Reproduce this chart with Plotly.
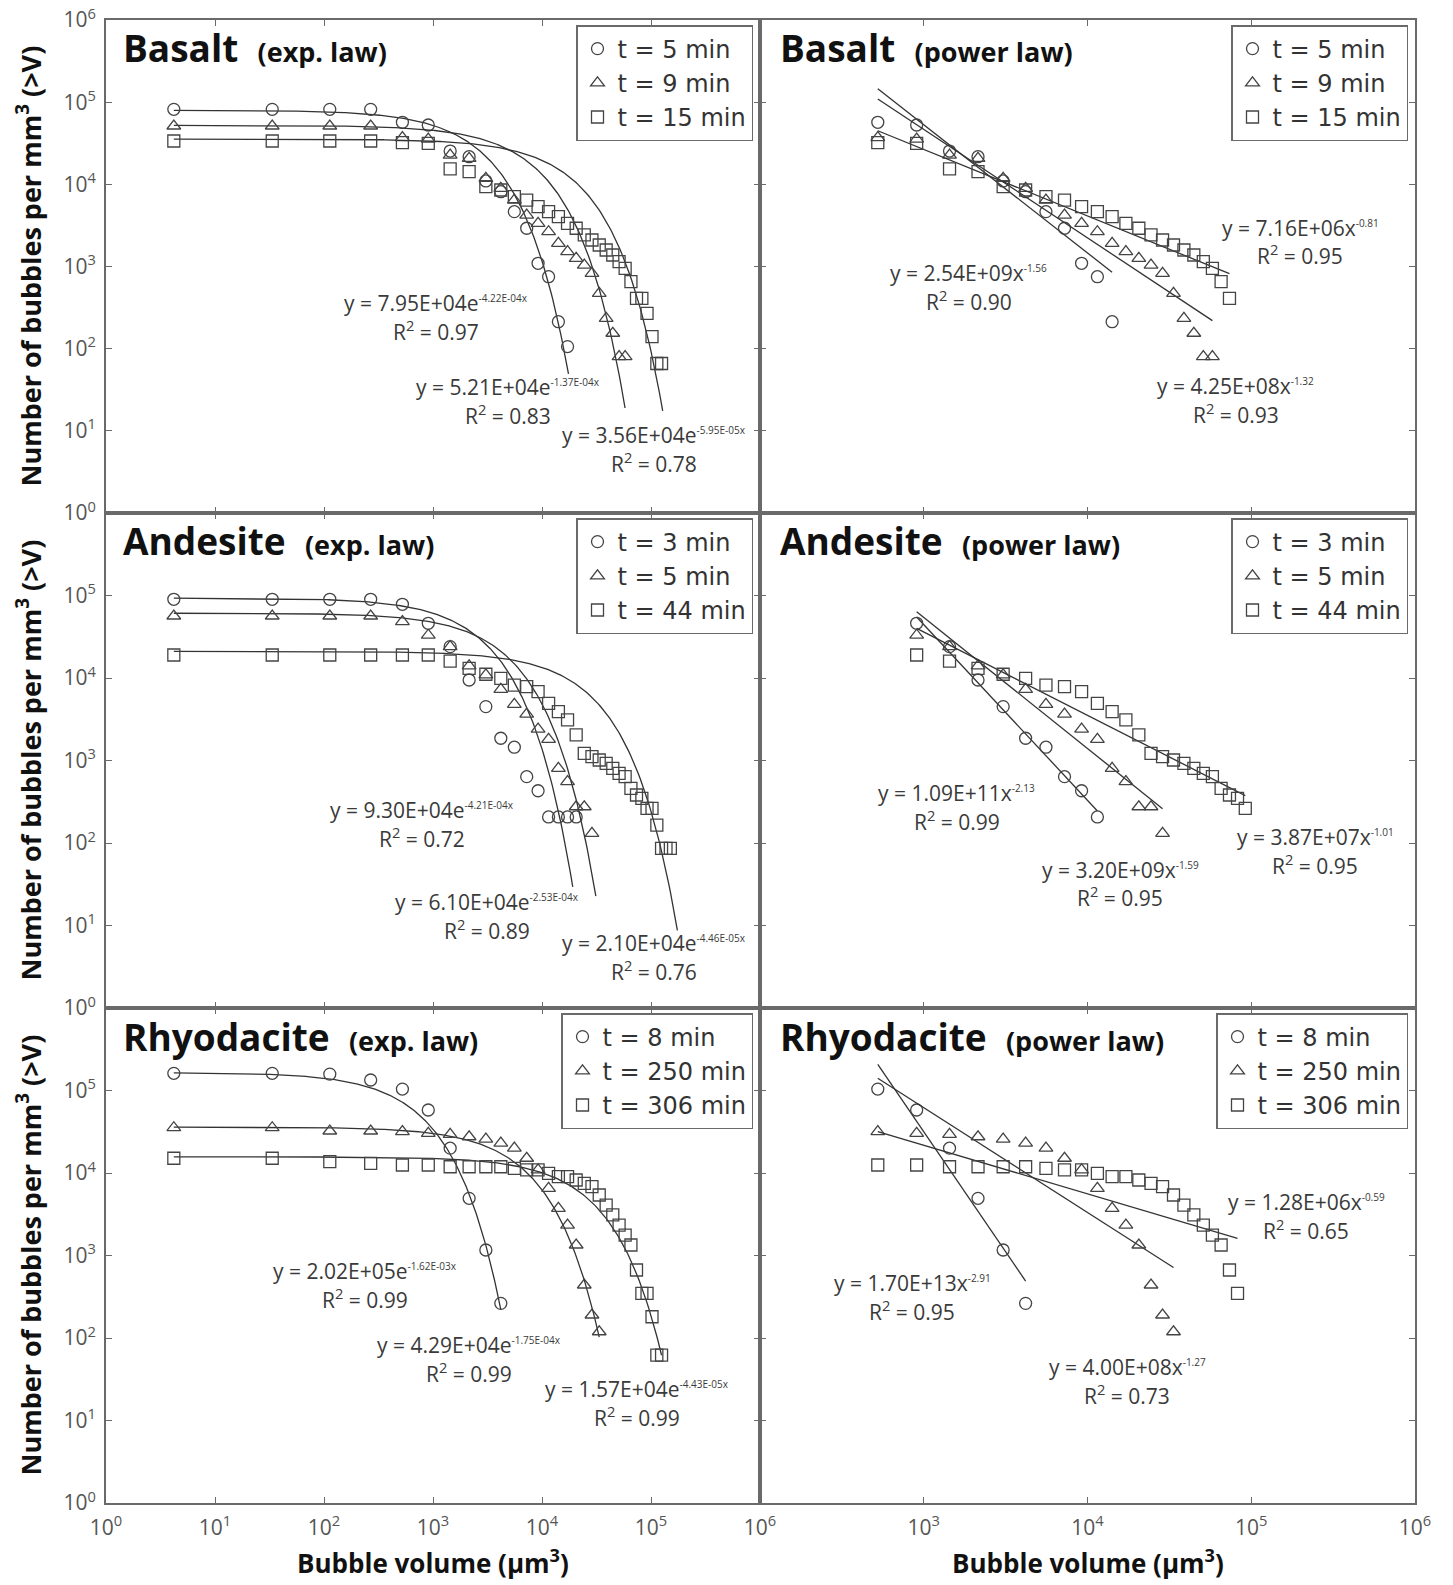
import numpy as np
import plotly.graph_objects as go

W, H = 1453, 1585
S = 1453 / 1437  # reference-shown -> full-size coordinate factor

# ---------------- data ----------------
# bubble-volume classes (µm³) at which cumulative counts are plotted
volume = [4.19, 33.5, 113, 268, 524, 905, 1437, 2145, 3054, 4189, 5575, 7238,
          9203, 11494, 14137, 17157, 20580, 24429, 28731, 33510, 38792, 44602,
          50965, 57906, 65450, 73622, 82448, 91952, 102160, 113097, 125000,
          137258, 150533]

basalt_t5 = [81800, 81800, 81800, 81800, 56900, 52700, 25400, 21700, 11000, 8130,
             4650, 2920, 1094, 751, 213, 106]
basalt_t9 = [51300, 51300, 51300, 51300, 37000, 35500, 22700, 20700, 11800, 8940,
             6440, 4230, 3350, 2650, 1916, 1515, 1257, 1042, 826, 471, 234, 154, 80, 80]
basalt_t15 = [33700, 33700, 33700, 33700, 32100, 31600, 15400, 14300, 9360, 8530,
              7080, 6440, 5350, 4650, 4040, 3350, 2920, 2420, 2100, 1826, 1588, 1380,
              1145, 951, 653, 410, 410, 269, 140, 66, 66]

andesite_t3 = [89900, 89900, 89900, 89900, 78200, 46000, 24000, 9460, 4500, 1860,
               1450, 637, 430, 207, 207, 207, 207]
andesite_t5 = [56400, 56400, 56400, 56400, 48200, 33000, 24000, 14000, 10900, 7300,
               4800, 3650, 2400, 1800, 804, 554, 275, 275, 131]
andesite_t44 = [19000, 19000, 19000, 19000, 19000, 19000, 16000, 13100, 11100, 9910,
                8200, 7850, 6820, 4930, 3910, 3100, 2040, 1222, 1112, 1014, 925, 804,
                699, 637, 460, 382, 348, 263, 263, 165, 86, 86, 86]

rhyo_t8 = [161500, 161500, 158000, 134000, 104000, 58000, 20000, 4930, 1166, 263]
rhyo_t250 = [35400, 35400, 32300, 32300, 31700, 30200, 29400, 27500, 25800, 23000,
             20000, 15100, 10900, 6520, 3730, 2340, 1340, 439, 190, 119]
rhyo_t306 = [15100, 15100, 13700, 13100, 12500, 12500, 11900, 11900, 11900, 11900,
             11400, 10900, 10900, 9910, 9020, 9020, 8230, 7500, 6820, 5410, 4090,
             3100, 2340, 1770, 1340, 667, 348, 348, 181, 62, 62]

rocks = ["Basalt", "Andesite", "Rhyodacite"]
legend_labels = [["t = 5 min", "t = 9 min", "t = 15 min"],
                 ["t = 3 min", "t = 5 min", "t = 44 min"],
                 ["t = 8 min", "t = 250 min", "t = 306 min"]]
series = [[basalt_t5, basalt_t9, basalt_t15],
          [andesite_t3, andesite_t5, andesite_t44],
          [rhyo_t8, rhyo_t250, rhyo_t306]]

# classes shown in the power-law panels (1-based first/last class)
power_first = [[5, 5, 5], [6, 6, 6], [5, 5, 5]]
power_last = [[15, 24, 26], [14, 19, 28], [10, 20, 27]]

# exponential fits  y = a exp(-b V)
exp_a = [[7.95e4, 5.21e4, 3.56e4], [9.30e4, 6.10e4, 2.10e4], [1.65e5, 3.6e4, 1.57e4]]
exp_b = [[4.22e-4, 1.37e-4, 5.95e-5], [4.21e-4, 2.53e-4, 4.46e-5], [1.58e-3, 1.75e-4, 4.43e-5]]
exp_end = [[17500, 57800, 128000], [19150, 31200, 174600], [4189, 33510, 125000]]
exp_text = [["7.95E+04e", "5.21E+04e", "3.56E+04e"],
            ["9.30E+04e", "6.10E+04e", "2.10E+04e"],
            ["2.02E+05e", "4.29E+04e", "1.57E+04e"]]
exp_power_text = [["-4.22E-04x", "-1.37E-04x", "-5.95E-05x"],
                  ["-4.21E-04x", "-2.53E-04x", "-4.46E-05x"],
                  ["-1.62E-03x", "-1.75E-04x", "-4.43E-05x"]]
exp_r2 = [["0.97", "0.83", "0.78"], ["0.72", "0.89", "0.76"], ["0.99", "0.99", "0.99"]]

# power-law fits  y = a V^-k
pow_a = [[2.54e9, 4.25e8, 7.16e6], [1.09e11, 3.20e9, 3.87e7], [1.70e13, 4.00e8, 1.28e6]]
pow_k = [[1.56, 1.32, 0.81], [2.13, 1.59, 1.01], [2.91, 1.27, 0.59]]
pow_text = [["2.54E+09x", "4.25E+08x", "7.16E+06x"],
            ["1.09E+11x", "3.20E+09x", "3.87E+07x"],
            ["1.70E+13x", "4.00E+08x", "1.28E+06x"]]
pow_exp_text = [["-1.56", "-1.32", "-0.81"], ["-2.13", "-1.59", "-1.01"], ["-2.91", "-1.27", "-0.59"]]
pow_r2 = [["0.90", "0.93", "0.95"], ["0.99", "0.95", "0.95"], ["0.95", "0.73", "0.65"]]

# label positions (reference pixel coords, centre of text)
exp_lab_pos = [[(431, 300), (502, 383), (647, 430)],
               [(417, 801), (482, 892), (647, 933)],
               [(361, 1257), (464, 1330), (630, 1374)]]
pow_lab_pos = [[(958, 270), (1222, 382), (1286, 225)],
               [(946, 784), (1108, 860), (1301, 828)],
               [(902, 1269), (1115, 1352), (1292, 1189)]]

# ---------------- layout helpers ----------------
FONT = "'Open Sans', Lato, sans-serif"
LEGFONT = "'DejaVu Sans', 'Open Sans', sans-serif"
INK = "#3a3a3a"
AX = "#6a6a6a"
symbols = ["circle-open", "triangle-up-open", "square-open"]
sizes = [12, 12, 12]

col_x = [(106, 760), (760, 1415)]
row_y = [(20, 513), (513, 1008), (1008, 1503)]
ytick_v = [1, 10, 100, 1e3, 1e4, 1e5, 1e6]
sup = lambda n: f"10<sup>{n}</sup>"


def px(x):
    return x / W


def py(y):
    return 1 - y / H


fig = go.Figure()
layout = {}
annotations = []

for r in range(3):
    for c in range(2):
        k = r * 2 + c + 1
        sfx = "" if k == 1 else str(k)
        xa, ya = "x" + sfx, "y" + sfx
        leg = "legend" + sfx

        x0, x1 = col_x[c]
        y0, y1 = row_y[r]
        bottom = r == 2
        if c == 0:
            xt_v = ytick_v
            xt_t = [sup(i) for i in range(7)]
            xrange = [0, 6]
        else:
            xt_v = [100, 1e3, 1e4, 1e5, 1e6]
            xt_t = ["", sup(3), sup(4), sup(5), sup(6)]
            xrange = [2, 6]
        yt_t = [sup(i) for i in range(7)]
        if r > 0:
            yt_t[-1] = ""
        common = dict(type="log", showline=True, linecolor=AX, linewidth=1.6,
                      mirror="ticks", ticks="inside", ticklen=6, tickwidth=1.2,
                      tickcolor=AX, showgrid=False, zeroline=False, automargin=False,
                      tickfont=dict(size=21, color="#555", family=FONT))
        layout["xaxis" + sfx] = dict(common, domain=[px(x0), px(x1)], range=xrange,
                                     anchor=ya, tickvals=xt_v, ticktext=xt_t,
                                     showticklabels=bottom, ticklabelstandoff=5)
        layout["yaxis" + sfx] = dict(common, domain=[py(y1), py(y0)], range=[0, 6],
                                     anchor=xa, tickvals=ytick_v, ticktext=yt_t,
                                     showticklabels=(c == 0), ticklabelstandoff=4)

        for i in range(3):
            vals = series[r][i]
            if c == 0:
                vx = volume[:len(vals)]
                vy = vals
            else:
                a0, a1 = power_first[r][i] - 1, power_last[r][i]
                vx = volume[a0:a1]
                vy = vals[a0:a1]
            # fit line
            if c == 0:
                fx = np.logspace(np.log10(volume[0]), np.log10(exp_end[r][i]), 300)
                fy = exp_a[r][i] * np.exp(-exp_b[r][i] * fx)
            else:
                fx = np.logspace(np.log10(vx[0]), np.log10(vx[-1]), 50)
                fy = pow_a[r][i] * fx ** (-pow_k[r][i])
            fig.add_trace(go.Scatter(x=fx, y=fy, mode="lines", xaxis=xa, yaxis=ya,
                                     line=dict(color="#333", width=1.3),
                                     showlegend=False, hoverinfo="skip"))
            fig.add_trace(go.Scatter(x=vx, y=vy, mode="markers", xaxis=xa, yaxis=ya,
                                     name=legend_labels[r][i], legend=leg,
                                     marker=dict(symbol=symbols[i], size=sizes[i],
                                                 color="#444", line=dict(width=1.3))))

        layout[leg] = dict(x=px(x1 - 7), y=py(y0 + 5), xanchor="right", yanchor="top",
                           bgcolor="white", bordercolor=AX, borderwidth=1.5,
                           font=dict(size=24, color="#333", family=LEGFONT),
                           itemwidth=30, tracegroupgap=0, traceorder="normal")

        # panel title
        law = "(exp. law)" if c == 0 else "(power law)"
        annotations.append(dict(
            text=f"<b>{rocks[r]}</b>\u00a0\u00a0<span style='font-size:27px'><b>{law}</b></span>",
            x=px(x0 + 15 if c == 0 else x0 + 18), y=py(y0 + 28),
            xref="paper", yref="paper", xanchor="left", yanchor="middle",
            showarrow=False, font=dict(size=37, color="#111", family=FONT)))

        # fit equation labels
        for i in range(3):
            if c == 0:
                lx, ly = exp_lab_pos[r][i]
                eq = (f"y = {exp_text[r][i]}<sup><span style='font-size:10px'>"
                      f"{exp_power_text[r][i]}</span></sup>")
                r2 = exp_r2[r][i]
            else:
                lx, ly = pow_lab_pos[r][i]
                eq = (f"y = {pow_text[r][i]}<sup><span style='font-size:10px'>"
                      f"{pow_exp_text[r][i]}</span></sup>")
                r2 = pow_r2[r][i]
            annotations.append(dict(text=eq, x=px(lx * S), y=py(ly * S), xref="paper",
                                    yref="paper", xanchor="center", yanchor="middle",
                                    showarrow=False,
                                    font=dict(size=21, color=INK, family=FONT)))
            annotations.append(dict(text=f"R<sup>2</sup> = {r2}", x=px(lx * S),
                                    y=py((ly + 27) * S), xref="paper", yref="paper",
                                    xanchor="center", yanchor="middle", showarrow=False,
                                    font=dict(size=21, color=INK, family=FONT)))

# axis titles
for r in range(3):
    y0, y1 = row_y[r]
    annotations.append(dict(text="<b>Number of bubbles per mm<sup>3</sup> (>V)</b>",
                            x=px(29), y=py((y0 + y1) / 2), xref="paper", yref="paper",
                            xanchor="center", yanchor="middle",
                            textangle=-90, showarrow=False,
                            font=dict(size=27, color="#111", family=FONT)))
for c in range(2):
    x0, x1 = col_x[c]
    annotations.append(dict(text="<b>Bubble volume (µm<sup>3</sup>)</b>",
                            x=px((x0 + x1) / 2), y=py(1562), xref="paper", yref="paper",
                            xanchor="center", yanchor="middle",
                            showarrow=False, font=dict(size=26, color="#111", family=FONT)))

fig.update_layout(width=W, height=H,
                  margin=dict(l=0, r=0, t=0, b=0, pad=0, autoexpand=False),
                  paper_bgcolor="white", plot_bgcolor="white",
                  annotations=annotations, **layout)

fig.write_html("out.html")
